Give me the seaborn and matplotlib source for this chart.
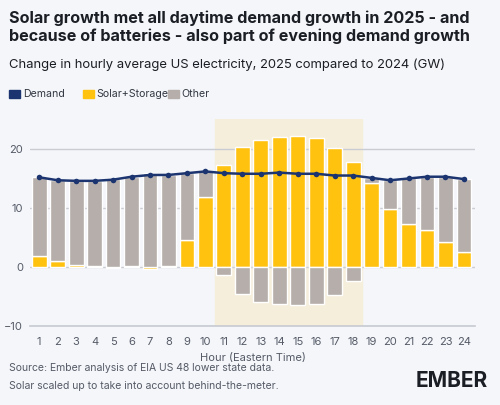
import seaborn as sns
import pandas as pd
import matplotlib.pyplot as plt

hours = list(range(1, 25))
demand = [15.2, 14.7, 14.6, 14.6, 14.8, 15.3, 15.6, 15.6, 15.9, 16.2, 15.9, 15.8,
          15.8, 16.0, 15.8, 15.8, 15.5, 15.5, 15.1, 14.7, 15.0, 15.3, 15.3, 14.9]
solar = [1.8, 1.0, 0.3, 0.1, -0.1, 0.1, -0.3, 0.1, 4.5, 11.8, 17.3, 20.3,
         21.6, 22.1, 22.2, 21.8, 20.2, 17.8, 14.2, 9.8, 7.3, 6.2, 4.2, 2.6]
other = [13.4, 13.7, 14.3, 14.5, 14.9, 15.2, 15.9, 15.5, 11.4, 4.4, -1.4, -4.6,
         -5.9, -6.2, -6.5, -6.2, -4.7, -2.3, 0.9, 4.9, 7.7, 9.1, 11.1, 12.3]

df = pd.DataFrame({'hour': hours, 'demand': demand, 'solar': solar, 'other': other})
df['other_bottom'] = [max(s, 0) if o > 0 else min(s, 0) for s, o in zip(solar, other)]

bg = '#f4f6fa'
navy = '#1c3570'
yellow = '#ffc20e'
grey = '#b5aeaa'

sns.set_theme(style='white')
plt.rcParams['font.family'] = ['Inter', 'DejaVu Sans']

fig = plt.figure(figsize=(5, 4.05), dpi=100, facecolor=bg)
ax = fig.add_axes([0.06, 0.195, 0.89, 0.51])
ax.set_facecolor(bg)

ax.axvspan(10.5, 18.5, color='#f5eedb', zorder=0)
ax.bar(df['hour'], df['solar'], width=0.8, color=yellow, zorder=2)
ax.bar(df['hour'], df['other'], bottom=df['other_bottom'], width=0.8, color=grey, zorder=2)
sns.lineplot(data=df, x='hour', y='demand', ax=ax, color=navy, lw=1.8,
             marker='o', markersize=4, markeredgewidth=0, zorder=3)

ax.set_xlim(0.5, 24.6)
ax.set_ylim(-10, 25)
ax.set_yticks([-10, 0, 10, 20])
ax.set_xticks(hours)
ax.grid(axis='y', color='#c9ccd3', lw=1, zorder=1)
for s in ['top', 'right', 'left']:
    ax.spines[s].set_visible(False)
ax.spines['bottom'].set_color('#c9ccd3')
ax.tick_params(axis='both', labelsize=8, colors='#555a66', length=0, pad=5)
ax.tick_params(axis='x', length=3, color='#c9ccd3')
ax.set_xlabel('Hour (Eastern Time)', fontsize=8, color='#555a66')
ax.set_ylabel('')

fig.text(0.018, 0.975, 'Solar growth met all daytime demand growth in 2025 - and\n'
         'because of batteries - also part of evening demand growth',
         fontsize=11.6, fontweight='bold', color='#1b1e24', va='top', linespacing=1.25)
fig.text(0.018, 0.855, 'Change in hourly average US electricity, 2025 compared to 2024 (GW)',
         fontsize=9.4, color='#1b1e24', va='top')

# legend
items = [('Demand', navy, 0.018), ('Solar+Storage', yellow, 0.165), ('Other', grey, 0.335)]
for label, c, x in items:
    fig.patches.append(plt.Rectangle((x, 0.757), 0.022, 0.022, color=c, transform=fig.transFigure))
    fig.text(x + 0.028, 0.768, label, fontsize=7.6, color='#333842', va='center')

fig.text(0.018, 0.085, 'Source: Ember analysis of EIA US 48 lower state data.',
         fontsize=7.5, color='#555a66')
fig.text(0.018, 0.04, 'Solar scaled up to take into account behind-the-meter.',
         fontsize=7.5, color='#555a66')
fig.text(0.975, 0.045, 'EMBER', fontsize=15, fontweight='bold', color='#1b1e24', ha='right')

fig.savefig('out.png', dpi=100, facecolor=bg)
